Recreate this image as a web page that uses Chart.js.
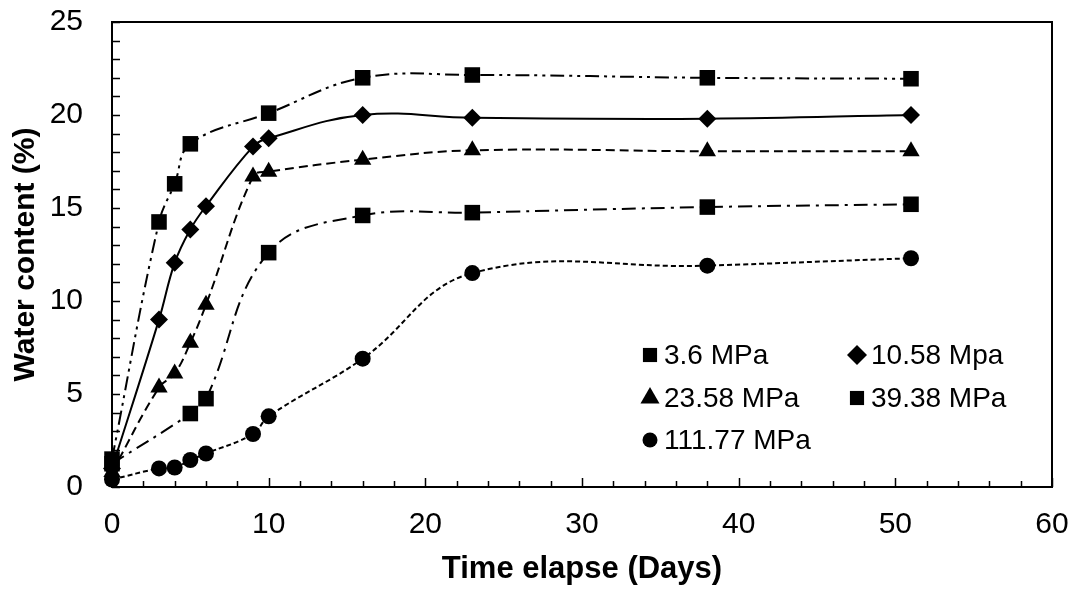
<!DOCTYPE html>
<html>
<head>
<meta charset="utf-8">
<script src="https://cdn.jsdelivr.net/npm/chart.js@4/dist/chart.umd.min.js"></script>
<style>
  html, body { margin: 0; padding: 0; background: #fff; }
  canvas { display: block; }
</style>
</head>
<body>
<canvas id="chart" width="1076" height="589"></canvas>
<script>
// days elapsed for every series
var days = [0, 3, 4, 5, 6, 9, 10, 16, 23, 38, 51];

// water content (%) per confining pressure
var mpa3_6    = [1.5, 14.25, 16.3, 18.45, null, null, 20.1, 22.0, 22.15, 22.0, 21.95];
var mpa10_58  = [1.0, 9.0, 12.05, 13.85, 15.1, 18.3, 18.75, 20.0, 19.85, 19.8, 20.0];
var mpa23_58  = [0.8, 5.35, 6.1, 7.75, 9.8, 16.7, 16.95, 17.6, 18.1, 18.05, 18.05];
var mpa39_38  = [1.25, null, null, 3.95, 4.75, null, 12.6, 14.6, 14.75, 15.05, 15.2];
var mpa111_77 = [0.4, 1.0, 1.05, 1.45, 1.8, 2.85, 3.8, 6.9, 11.5, 11.9, 12.3];

var seriesLabels = ['3.6 MPa', '10.58 Mpa', '23.58 MPa', '39.38 MPa', '111.77 MPa'];

var xTicks = [0, 10, 20, 30, 40, 50, 60];
var yTicks = [0, 5, 10, 15, 20, 25];

function toPoints(values) {
    var pts = [];
    for (var i = 0; i < days.length; i++) {
        if (values[i] !== null) pts.push({ x: days[i], y: values[i] });
    }
    return pts;
}

function series(label, values, style, radius, legendRadius, dash) {
    return {
        label: label,
        data: toPoints(values),
        showLine: true,
        borderColor: '#000',
        backgroundColor: '#000',
        borderWidth: 2,
        borderDash: dash,
        tension: 0.4,
        pointStyle: style,
        pointRadius: radius,
        legendRadius: legendRadius,
        pointBackgroundColor: '#000',
        pointBorderWidth: 0,
        clip: false
    };
}

var FONT = '"Liberation Sans", Arial, sans-serif';

// inward tick marks + full frame round the plot
var frameTicks = {
    id: 'frameTicks',
    afterDraw: function (chart) {
        var ctx = chart.ctx, a = chart.chartArea;
        var xs = chart.scales.x, ys = chart.scales.y;
        ctx.save();
        ctx.strokeStyle = '#000';
        ctx.lineWidth = 1.5;
        ctx.beginPath();
        xs.ticks.forEach(function (t) {
            var px = Math.round(xs.getPixelForValue(t.value)) + 0.5;
            var len = xTicks.indexOf(t.value) >= 0 ? 9 : 6;
            ctx.moveTo(px, a.bottom);
            ctx.lineTo(px, a.bottom - len);
        });
        ys.ticks.forEach(function (t) {
            var py = Math.round(ys.getPixelForValue(t.value)) + 0.5;
            ctx.moveTo(a.left, py);
            ctx.lineTo(a.left + 8, py);
        });
        ctx.stroke();
        ctx.lineWidth = 2;
        ctx.strokeRect(a.left, a.top, a.right - a.left, a.bottom - a.top);
        ctx.restore();
    }
};

// legend drawn inside the plot, two columns
var innerLegend = {
    id: 'innerLegend',
    afterDraw: function (chart) {
        var ctx = chart.ctx;
        var cols = [650, 857];
        var rows = [355, 398, 440];
        ctx.save();
        ctx.fillStyle = '#000';
        ctx.strokeStyle = '#000';
        ctx.font = '28px ' + FONT;
        ctx.textBaseline = 'middle';
        chart.data.datasets.forEach(function (ds, i) {
            var x = cols[i % 2], y = rows[Math.floor(i / 2)];
            Chart.helpers.drawPoint(ctx, { pointStyle: ds.pointStyle, radius: ds.legendRadius, rotation: 0, borderWidth: 0 }, x, y);
            ctx.fillText(ds.label, x + 14, y + 1);
        });
        ctx.restore();
    }
};

new Chart(document.getElementById('chart'), {
    type: 'scatter',
    data: {
        datasets: [
            series(seriesLabels[0], mpa3_6, 'rect', 11, 10, [14, 5, 3, 5, 3, 5]),
            series(seriesLabels[1], mpa10_58, 'rectRot', 9, 10, []),
            series(seriesLabels[2], mpa23_58, 'triangle', 10, 11, [9, 5]),
            series(seriesLabels[3], mpa39_38, 'rect', 11, 10, [14, 6, 3, 6]),
            series(seriesLabels[4], mpa111_77, 'circle', 8, 7.5, [5, 3])
        ]
    },
    options: {
        responsive: false,
        animation: false,
        layout: { padding: { top: 22, right: 24, left: 0, bottom: 0 } },
        plugins: {
            legend: { display: false },
            tooltip: { enabled: false }
        },
        scales: {
            x: {
                type: 'linear',
                min: 0,
                max: 60,
                afterFit: function (s) {
                    s.height = 102;
                    s.paddingLeft = 0;
                    s.paddingRight = 0;
                },
                grid: { display: false, drawTicks: false },
                border: { display: false },
                ticks: {
                    stepSize: 2,
                    autoSkip: false,
                    maxRotation: 0,
                    padding: 20,
                    color: '#000',
                    font: { family: FONT, size: 30 },
                    callback: function (v) { return xTicks.indexOf(v) >= 0 ? String(v) : ''; }
                },
                title: {
                    display: true,
                    text: 'Time elapse (Days)',
                    color: '#000',
                    font: { family: FONT, size: 31, weight: 'bold' },
                    padding: { top: 4, bottom: 1 }
                }
            },
            y: {
                type: 'linear',
                min: 0,
                max: 25,
                afterFit: function (s) {
                    s.width = 112;
                    s.paddingTop = 0;
                    s.paddingBottom = 0;
                },
                grid: { display: false, drawTicks: false },
                border: { display: false },
                ticks: {
                    stepSize: 1,
                    autoSkip: false,
                    padding: 29,
                    color: '#000',
                    font: { family: FONT, size: 30 },
                    callback: function (v) { return yTicks.indexOf(v) >= 0 ? String(v) : ''; }
                },
                title: {
                    display: true,
                    text: 'Water content (%)',
                    color: '#000',
                    font: { family: FONT, size: 30, weight: 'bold' },
                    padding: { top: 8, bottom: 0 }
                }
            }
        }
    },
    plugins: [frameTicks, innerLegend]
});
</script>
</body>
</html>
